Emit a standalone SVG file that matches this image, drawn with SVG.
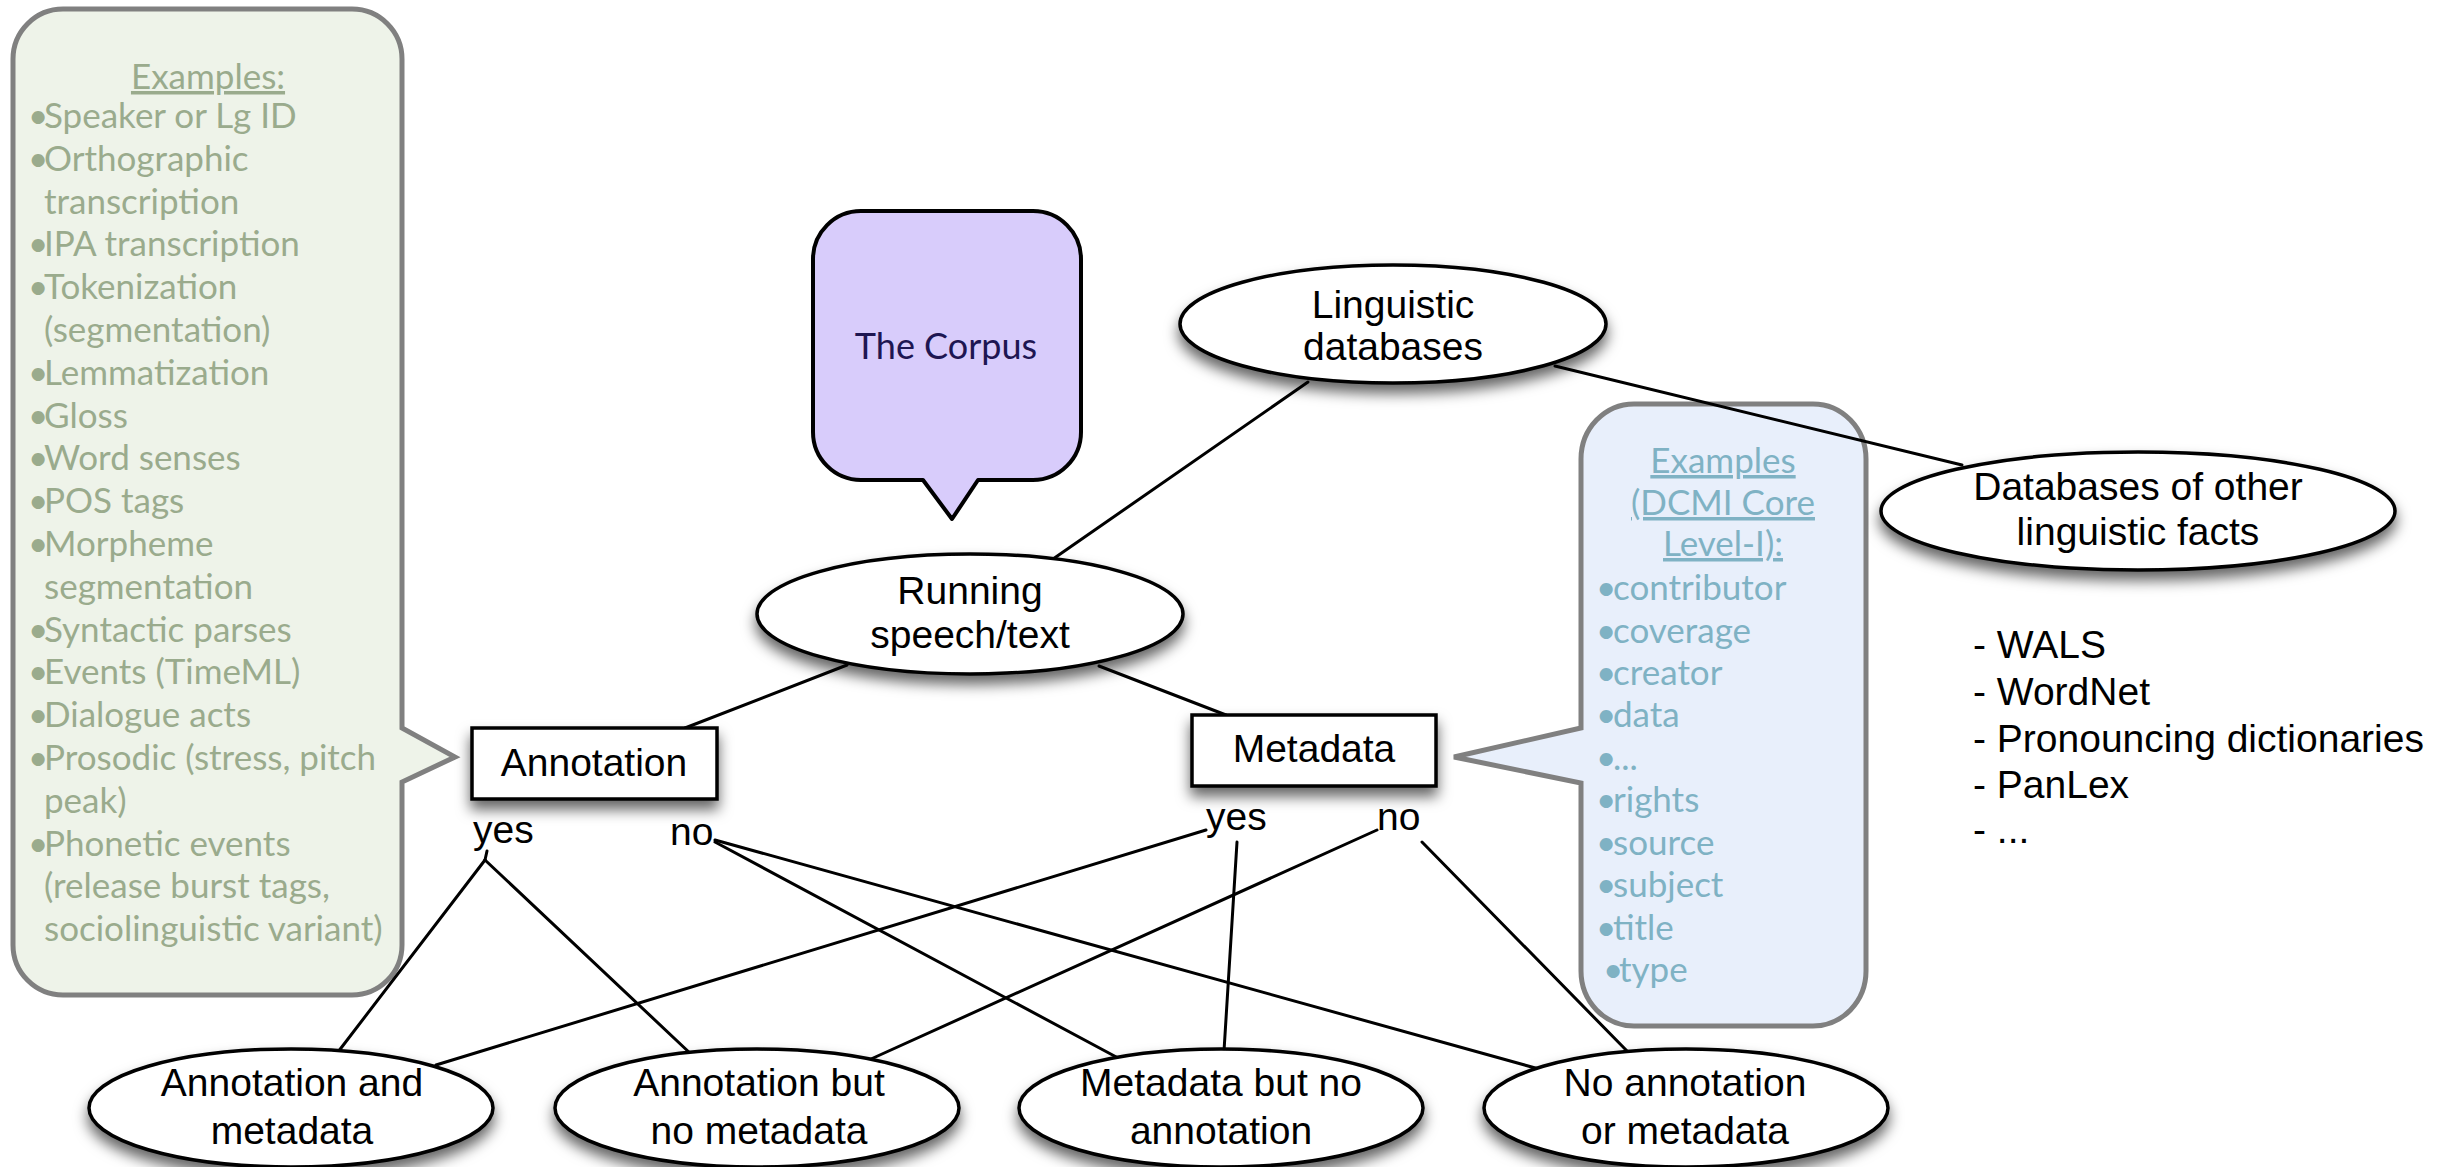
<svg xmlns="http://www.w3.org/2000/svg" width="2464" height="1167" viewBox="0 0 2464 1167">
<defs>
<filter id="shadow" x="-20%" y="-20%" width="140%" height="160%">
<feDropShadow dx="0" dy="9" stdDeviation="7" flood-color="#000" flood-opacity="0.6"/>
</filter>
<style>
.node{fill:#fff;stroke:#000;stroke-width:3.5;filter:url(#shadow)}
.lbl{font-family:"Liberation Sans",Arial,sans-serif;font-size:39px;fill:#000}
.mid{text-anchor:middle}
.conn line{stroke:#000;stroke-width:3;stroke-linecap:round}
.green{font-family:Lato,"Open Sans",sans-serif;font-size:35px;fill:#9aab8d}
.blue{font-family:Lato,"Open Sans",sans-serif;font-size:35px;fill:#7fb2c4}
.ul{text-decoration:underline}
.callout{stroke:#808080;stroke-width:5}
</style>
</defs>
<rect width="2464" height="1167" fill="#fff"/>

<g id="annotation-examples">
<path class="callout" fill="#eef3e9" d="M63,9 H352 A50,50 0 0 1 402,59 V728 L455,757 L402,782 V945 A50,50 0 0 1 352,995 H63 A50,50 0 0 1 13,945 V59 A50,50 0 0 1 63,9 Z"/>
<text class="green mid ul" x="208" y="89">Examples:</text>
<text class="green"><tspan x="28" y="128">•</tspan><tspan x="44" y="128">Speaker or Lg ID</tspan></text>
<text class="green"><tspan x="28" y="171">•</tspan><tspan x="44" y="171">Orthographic</tspan></text>
<text class="green" x="44" y="214">transcription</text>
<text class="green"><tspan x="28" y="256">•</tspan><tspan x="44" y="256">IPA transcription</tspan></text>
<text class="green"><tspan x="28" y="299">•</tspan><tspan x="44" y="299">Tokenization</tspan></text>
<text class="green" x="44" y="342">(segmentation)</text>
<text class="green"><tspan x="28" y="385">•</tspan><tspan x="44" y="385">Lemmatization</tspan></text>
<text class="green"><tspan x="28" y="428">•</tspan><tspan x="44" y="428">Gloss</tspan></text>
<text class="green"><tspan x="28" y="470">•</tspan><tspan x="44" y="470">Word senses</tspan></text>
<text class="green"><tspan x="28" y="513">•</tspan><tspan x="44" y="513">POS tags</tspan></text>
<text class="green"><tspan x="28" y="556">•</tspan><tspan x="44" y="556">Morpheme</tspan></text>
<text class="green" x="44" y="599">segmentation</text>
<text class="green"><tspan x="28" y="642">•</tspan><tspan x="44" y="642">Syntactic parses</tspan></text>
<text class="green"><tspan x="28" y="684">•</tspan><tspan x="44" y="684">Events (TimeML)</tspan></text>
<text class="green"><tspan x="28" y="727">•</tspan><tspan x="44" y="727">Dialogue acts</tspan></text>
<text class="green"><tspan x="28" y="770">•</tspan><tspan x="44" y="770">Prosodic (stress, pitch</tspan></text>
<text class="green" x="44" y="813">peak)</text>
<text class="green"><tspan x="28" y="856">•</tspan><tspan x="44" y="856">Phonetic events</tspan></text>
<text class="green" x="44" y="898">(release burst tags,</text>
<text class="green" x="44" y="941">sociolinguistic variant)</text>
</g>

<g id="metadata-examples">
<path class="callout" fill="#e8effb" d="M1634,404 H1813 A53,55 0 0 1 1866,459 V971 A53,55 0 0 1 1813,1026 H1634 A53,55 0 0 1 1581,971 V783 L1454,757 L1581,728 V459 A53,55 0 0 1 1634,404 Z"/>
<text class="blue mid ul" x="1723" y="473">Examples</text>
<text class="blue mid ul" x="1723" y="515">(DCMI Core</text>
<text class="blue mid ul" x="1723" y="556">Level-I):</text>
<text class="blue"><tspan x="1596" y="600">•</tspan><tspan x="1613" y="600">contributor</tspan></text>
<text class="blue"><tspan x="1596" y="643">•</tspan><tspan x="1613" y="643">coverage</tspan></text>
<text class="blue"><tspan x="1596" y="685">•</tspan><tspan x="1613" y="685">creator</tspan></text>
<text class="blue"><tspan x="1596" y="727">•</tspan><tspan x="1613" y="727">data</tspan></text>
<text class="blue"><tspan x="1596" y="770">•</tspan><tspan x="1613" y="770">...</tspan></text>
<text class="blue"><tspan x="1596" y="812">•</tspan><tspan x="1613" y="812">rights</tspan></text>
<text class="blue"><tspan x="1596" y="855">•</tspan><tspan x="1613" y="855">source</tspan></text>
<text class="blue"><tspan x="1596" y="897">•</tspan><tspan x="1613" y="897">subject</tspan></text>
<text class="blue"><tspan x="1596" y="940">•</tspan><tspan x="1613" y="940">title</tspan></text>
<text class="blue"><tspan x="1603" y="982">•</tspan><tspan x="1619" y="982">type</tspan></text>
</g>

<g id="the-corpus">
<path fill="#d8ccfb" stroke="#000" stroke-width="4" stroke-linejoin="round" d="M861,211 H1033 A48,48 0 0 1 1081,259 V432 A48,48 0 0 1 1033,480 H978 L952,519 L923,480 H861 A48,48 0 0 1 813,432 V259 A48,48 0 0 1 861,211 Z"/>
<text x="946" y="359" text-anchor="middle" font-family="Lato, 'Open Sans', sans-serif" font-size="36" fill="#1e1652">The Corpus</text>
</g>

<g id="connectors" class="conn">
<line x1="1308" y1="382" x2="1053" y2="559"/>
<line x1="1555" y1="366" x2="1962" y2="465"/>
<line x1="847" y1="665" x2="685" y2="728"/>
<line x1="1099" y1="666" x2="1226" y2="715"/>
<line x1="487" y1="851" x2="485" y2="860"/>
<line x1="485" y1="860" x2="338" y2="1052"/>
<line x1="485" y1="860" x2="692" y2="1055"/>
<line x1="715" y1="842" x2="1120" y2="1059"/>
<line x1="715" y1="840" x2="1539" y2="1069"/>
<line x1="1206" y1="830" x2="436" y2="1065"/>
<line x1="1237" y1="842" x2="1224" y2="1051"/>
<line x1="1377" y1="830" x2="871" y2="1059"/>
<line x1="1422" y1="842" x2="1628" y2="1052"/>
</g>

<g id="linguistic-databases">
<ellipse class="node" cx="1393" cy="324" rx="213" ry="59"/>
<text class="lbl mid" x="1393" y="318">Linguistic</text>
<text class="lbl mid" x="1393" y="360">databases</text>
</g>

<g id="databases-other">
<ellipse class="node" cx="2138" cy="511" rx="257" ry="59"/>
<text class="lbl mid" x="2138" y="500">Databases of other</text>
<text class="lbl mid" x="2138" y="545">linguistic facts</text>
</g>

<g id="running-speech">
<ellipse class="node" cx="970" cy="614" rx="213" ry="60"/>
<text class="lbl mid" x="970" y="604">Running</text>
<text class="lbl mid" x="970" y="648">speech/text</text>
</g>

<g id="annotation">
<rect class="node" x="472" y="728" width="245" height="71"/>
<text class="lbl mid" x="594" y="776">Annotation</text>
</g>

<g id="metadata">
<rect class="node" x="1192" y="715" width="244" height="71"/>
<text class="lbl mid" x="1314" y="762">Metadata</text>
</g>

<g id="branch-labels">
<text class="lbl" x="473" y="843">yes</text>
<text class="lbl" x="670" y="845">no</text>
<text class="lbl" x="1206" y="830">yes</text>
<text class="lbl" x="1377" y="830">no</text>
</g>

<g id="annotation-and-metadata">
<ellipse class="node" cx="291" cy="1108" rx="202" ry="59"/>
<text class="lbl mid" x="292" y="1096">Annotation and</text>
<text class="lbl mid" x="292" y="1144">metadata</text>
</g>

<g id="annotation-no-metadata">
<ellipse class="node" cx="757" cy="1108" rx="202" ry="59"/>
<text class="lbl mid" x="759" y="1096">Annotation but</text>
<text class="lbl mid" x="759" y="1144">no metadata</text>
</g>

<g id="metadata-no-annotation">
<ellipse class="node" cx="1221" cy="1108" rx="202" ry="59"/>
<text class="lbl mid" x="1221" y="1096">Metadata but no</text>
<text class="lbl mid" x="1221" y="1144">annotation</text>
</g>

<g id="no-annotation-no-metadata">
<ellipse class="node" cx="1686" cy="1108" rx="202" ry="59"/>
<text class="lbl mid" x="1685" y="1096">No annotation</text>
<text class="lbl mid" x="1685" y="1144">or metadata</text>
</g>

<g id="database-list">
<text class="lbl" x="1973" y="658">- WALS</text>
<text class="lbl" x="1973" y="705">- WordNet</text>
<text class="lbl" x="1973" y="752">- Pronouncing dictionaries</text>
<text class="lbl" x="1973" y="798">- PanLex</text>
<text class="lbl" x="1973" y="843">- ...</text>
</g>
</svg>
